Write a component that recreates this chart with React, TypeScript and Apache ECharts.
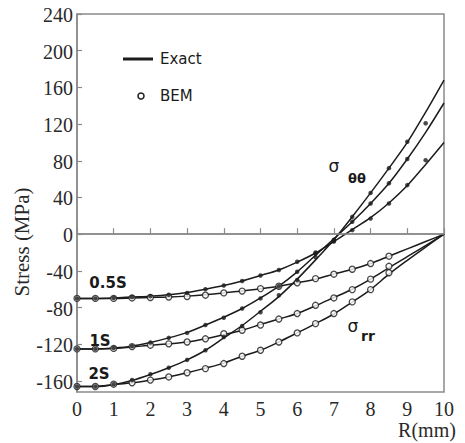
import React, { useEffect, useRef } from "react";
import * as echarts from "echarts";

// Radius positions (mm)
const R_EXACT = [0, 0.5, 1, 1.5, 2, 2.5, 3, 3.5, 4, 4.5, 5, 5.5, 6, 6.5, 7, 7.5, 8, 8.5, 9, 9.5, 10];
const R_BEM_THETA = [0, 0.5, 1, 1.5, 2, 2.5, 3, 3.5, 4, 4.5, 5, 5.5, 6, 6.5, 7, 7.5, 8, 8.5, 9, 9.5];
const R_BEM_RR = [0, 0.5, 1, 1.5, 2, 2.5, 3, 3.5, 4, 4.5, 5, 5.5, 6, 6.5, 7, 7.5, 8, 8.5];

// Exact solutions (MPa)
const EXACT_THETA_05S = [-70, -70, -69.5, -68.5, -67.5, -66, -63.5, -60, -56, -51, -45, -39, -30.5, -20.5, -8, 5, 18, 34, 53, 76, 100];
const EXACT_RR_05S = [-70, -70, -70, -69.5, -69, -68.5, -67.5, -66, -64, -62, -59.5, -56.7, -53, -49, -43.5, -38.3, -32, -24, -16, -8, 0];
const EXACT_THETA_1S = [-125, -125, -124, -122, -118, -113, -107, -99, -90.5, -81, -69.5, -56.5, -41, -23, -5, 13.5, 33.5, 55.5, 82, 111, 143];
const EXACT_RR_1S = [-125, -125, -124.5, -123, -121, -119.5, -117.5, -114, -109.5, -104.7, -98.5, -92.5, -86.5, -78, -69, -60, -49, -36.5, -24.5, -12.5, 0];
const EXACT_THETA_2S = [-166, -166, -164, -159.5, -153, -145.5, -137, -126.5, -113, -99.5, -84, -68, -49, -28, -6, 19, 45, 72, 100, 133, 168];
const EXACT_RR_2S = [-166, -166, -164, -162, -159, -155.6, -151, -146, -140.5, -133, -126.5, -117.5, -107.6, -97.5, -87, -74, -60.4, -43.6, -28.5, -14, 0];

// BEM results (MPa)
const BEM_THETA_05S = [-70, -70, -69.5, -68.5, -67.5, -66, -64, -60, -56, -51, -45, -39, -30, -20, -8, 4.4, 17, 33.5, 53.5, 80.7];
const BEM_THETA_1S = [-125, -125, -124, -122, -118, -113, -107.6, -99, -91, -81, -70, -56.7, -41, -21, -6, 13.5, 33.5, 55.5, 82];
const BEM_THETA_2S = [-166, -166, -163.5, -159, -152.7, -145.5, -137, -126.5, -112, -100, -85, -66.5, -50, -25, -7, 18.9, 45, 72, 100.7, 121];
const BEM_RR_05S = [-70, -70, -70, -69.5, -69, -68.5, -68, -66.5, -64, -62, -59.3, -56.7, -53, -48.4, -43.6, -38.2, -32, -24];
const BEM_RR_1S = [-125, -125, -124.5, -122.5, -121, -119.5, -117.5, -114, -108.5, -104.7, -99, -92.5, -86.5, -77.5, -69.5, -60.4, -49, -35];
const BEM_RR_2S = [-166, -166, -163.5, -162, -159, -155.6, -151, -146.5, -141, -133, -126.5, -117.5, -107.6, -97.5, -86.5, -73.8, -60.4, -42];

// Tick labels
const Y_TICKS = [-160, -120, -80, -40, 0, 40, 80, 120, 160, 200, 240];
const X_TICKS = [0, 1, 2, 3, 4, 5, 6, 7, 8, 9, 10];
const Y_MIN = -172;
const Y_MAX = 240;

const pair = (xs: number[], ys: number[]) => ys.map((y, i) => [xs[i], y]);

const LINE = "#1c1c1c";
const AXIS = "#8a8a8a";
const SERIF = "Liberation Serif";
const SANS = "DejaVu Sans";

export default function App() {
  const ref = useRef<HTMLDivElement>(null);

  useEffect(() => {
    if (!ref.current) return;
    const chart = echarts.init(ref.current, null, { renderer: "svg" });

    const exact = (name: string, ys: number[], extra: any = {}) => ({
      name,
      type: "line",
      data: pair(R_EXACT, ys),
      smooth: 0.3,
      showSymbol: false,
      symbol: "none",
      lineStyle: { color: LINE, width: 1.5 },
      z: 3,
      silent: true,
      ...extra,
    });
    const bemTheta = (name: string, xs: number[], ys: number[]) => ({
      name,
      type: "scatter",
      data: pair(xs, ys),
      symbol: "circle",
      symbolSize: 4.5,
      itemStyle: { color: LINE },
      z: 5,
      silent: true,
    });
    const bemRR = (name: string, xs: number[], ys: number[]) => ({
      name,
      type: "scatter",
      data: pair(xs, ys),
      symbol: "circle",
      symbolSize: 6,
      itemStyle: { color: "#ffffff", borderColor: LINE, borderWidth: 1.3 },
      z: 4,
      silent: true,
    });

    const staticGraphics: any[] = [
      // legend
      { type: "line", shape: { x1: 123, y1: 59, x2: 153, y2: 59 }, style: { stroke: LINE, lineWidth: 3 } },
      { type: "text", x: 160, y: 59, style: { text: "Exact", fontFamily: SANS, fontSize: 15, fill: "#1a1a1a", verticalAlign: "middle" } },
      { type: "circle", shape: { cx: 141, cy: 96, r: 3 }, style: { fill: "#fff", stroke: LINE, lineWidth: 1.5 } },
      { type: "text", x: 160, y: 96, style: { text: "BEM", fontFamily: SANS, fontSize: 15, fill: "#1a1a1a", verticalAlign: "middle" } },
      // axis names
      {
        type: "text",
        x: 22,
        y: 242,
        rotation: Math.PI / 2,
        style: { text: "Stress (MPa)", fontFamily: SERIF, fontSize: 21, fill: "#2a2a2a", align: "center", verticalAlign: "middle" },
      },
      { type: "text", x: 427, y: 430, style: { text: "R(mm)", fontFamily: SERIF, fontSize: 20, fill: "#2a2a2a", align: "center", verticalAlign: "middle" } },
      // curve annotations
      { type: "text", x: 108, y: 283, style: { text: "0.5S", fontFamily: SANS, fontWeight: "bold", fontSize: 15, fill: "#1a1a1a", align: "center", verticalAlign: "middle" } },
      { type: "text", x: 100, y: 341, style: { text: "1S", fontFamily: SANS, fontWeight: "bold", fontSize: 15, fill: "#1a1a1a", align: "center", verticalAlign: "middle" } },
      { type: "text", x: 99, y: 374, style: { text: "2S", fontFamily: SANS, fontWeight: "bold", fontSize: 15, fill: "#1a1a1a", align: "center", verticalAlign: "middle" } },
      { type: "text", x: 334, y: 166, style: { text: "σ", fontFamily: SANS, fontSize: 17, fill: "#1a1a1a", align: "center", verticalAlign: "middle" } },
      { type: "text", x: 357, y: 178, style: { text: "θθ", fontFamily: SANS, fontWeight: "bold", fontSize: 13, fill: "#1a1a1a", align: "center", verticalAlign: "middle" } },
      { type: "text", x: 353, y: 326, style: { text: "σ", fontFamily: SANS, fontSize: 17, fill: "#1a1a1a", align: "center", verticalAlign: "middle" } },
      { type: "text", x: 368, y: 336, style: { text: "rr", fontFamily: SANS, fontWeight: "bold", fontSize: 14, fill: "#1a1a1a", align: "center", verticalAlign: "middle" } },
    ];

    chart.setOption({
      animation: false,
      backgroundColor: "#ffffff",
      grid: {
        left: 77,
        right: 21,
        top: 14,
        bottom: 51,
        show: true,
        borderColor: AXIS,
        borderWidth: 1.5,
        backgroundColor: "transparent",
      },
      xAxis: {
        type: "value",
        min: 0,
        max: 10,
        interval: 1,
        axisLine: { show: true, lineStyle: { color: AXIS, width: 1.5 } },
        axisTick: { show: true, inside: true, length: 6, lineStyle: { color: AXIS, width: 1.2 } },
        axisLabel: { show: false },
        splitLine: { show: false },
      },
      yAxis: {
        type: "value",
        min: Y_MIN,
        max: Y_MAX,
        axisLine: { show: true, onZero: false, lineStyle: { color: AXIS, width: 1.5 } },
        axisTick: {
          show: true,
          inside: true,
          length: 5,
          lineStyle: { color: AXIS, width: 1.2 },
          customValues: Y_TICKS,
        },
        axisLabel: { show: false },
        splitLine: { show: false },
      },
      series: [
        exact("θθ 0.5S", EXACT_THETA_05S, {
          markLine: {
            silent: true,
            symbol: "none",
            label: { show: false },
            lineStyle: { color: AXIS, width: 1.5, type: "solid" },
            data: [{ yAxis: 0 }],
          },
        }),
        exact("rr 0.5S", EXACT_RR_05S),
        exact("θθ 1S", EXACT_THETA_1S),
        exact("rr 1S", EXACT_RR_1S),
        exact("θθ 2S", EXACT_THETA_2S),
        exact("rr 2S", EXACT_RR_2S),
        bemRR("BEM rr 0.5S", R_BEM_RR, BEM_RR_05S),
        bemRR("BEM rr 1S", R_BEM_RR, BEM_RR_1S),
        bemRR("BEM rr 2S", R_BEM_RR, BEM_RR_2S),
        bemTheta("BEM θθ 0.5S", R_BEM_THETA, BEM_THETA_05S),
        bemTheta("BEM θθ 1S", R_BEM_THETA.slice(0, BEM_THETA_1S.length), BEM_THETA_1S),
        bemTheta("BEM θθ 2S", R_BEM_THETA, BEM_THETA_2S),
      ],
      graphic: staticGraphics,
    });

    // Tick labels placed through the chart's own axis scales
    const tickLabels: any[] = [];
    Y_TICKS.forEach((v) => {
      const p = chart.convertToPixel({ gridIndex: 0 }, [0, v]) as number[];
      tickLabels.push({
        type: "text",
        x: p[0] - 4,
        y: p[1] + 1,
        style: { text: String(v), fontFamily: SERIF, fontSize: 20, fill: "#2a2a2a", align: "right", verticalAlign: "middle" },
      });
    });
    X_TICKS.forEach((v) => {
      const p = chart.convertToPixel({ gridIndex: 0 }, [v, Y_MIN]) as number[];
      tickLabels.push({
        type: "text",
        x: p[0],
        y: p[1] + 7,
        style: { text: String(v), fontFamily: SERIF, fontSize: 20, fill: "#2a2a2a", align: "center", verticalAlign: "top" },
      });
    });
    chart.setOption({ graphic: [...staticGraphics, ...tickLabels] }, { replaceMerge: ["graphic"] });

    return () => chart.dispose();
  }, []);

  return (
    <div
      ref={ref}
      style={{ position: "absolute", left: 0, top: 0, width: 465, height: 443, background: "#fff" }}
    />
  );
}
